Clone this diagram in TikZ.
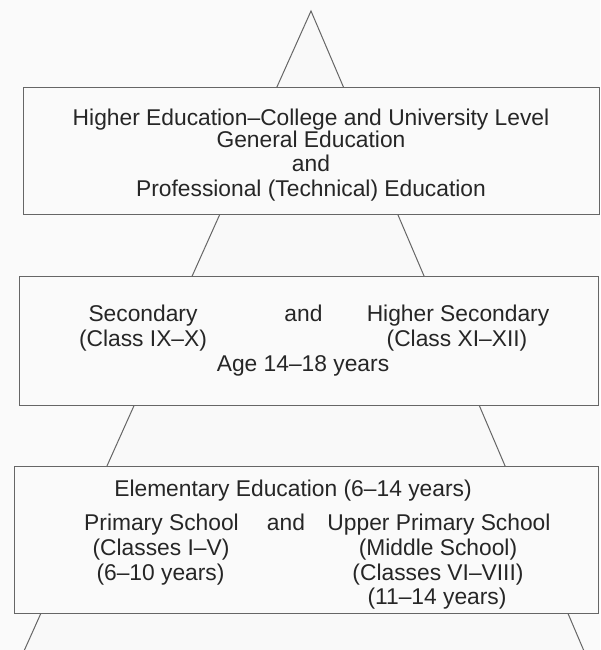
\documentclass[tikz,border=0pt]{standalone}
\usepackage{fontspec}
\setmainfont{Liberation Sans}
\definecolor{ink}{HTML}{262626}
\definecolor{edge}{HTML}{666666}
\definecolor{paper}{HTML}{FAFAFA}
\begin{document}
\begin{tikzpicture}[x=1pt,y=-1pt,
  lvl/.style={draw=edge,line width=1pt,fill=paper},
  txt/.style={text=ink,anchor=mid,inner sep=0pt,font=\fontsize{22.8}{25}\selectfont},
  pyr/.style={draw=edge,line width=1pt,fill=gray!5}]
\fill[paper] (0,0) rectangle (600,650);
\useasboundingbox (0,0) rectangle (600,650);
% pyramid
\coordinate (apex) at (311,11);
\coordinate (bl) at (24,651);
\coordinate (br) at (584,651);
\draw[pyr] (bl) -- (apex) -- (br);
% level boxes
\node[lvl,minimum width=576pt,minimum height=126pt,inner sep=0pt] (b1) at (311,151) {};
\node[lvl,minimum width=579pt,minimum height=129pt,inner sep=0pt] (b2) at (308.5,340.5) {};
\node[lvl,minimum width=584pt,minimum height=147pt,inner sep=0pt] (b3) at (306,539.5) {};
% box 1 text
\node[txt] (t11) at (311,123) {Higher Education–College and University Level};
\node[txt] (t12) at (311,145) {General Education};
\node[txt] (t13) at (311,169) {and};
\node[txt] (t14) at (311,194) {Professional (Technical) Education};
% box 2 text
\node[txt] (t21) at (143,319) {Secondary};
\node[txt] (t22) at (303.5,319) {and};
\node[txt] (t23) at (458,319) {Higher Secondary};
\node[txt] (t24) at (143,344) {(Class IX–X)};
\node[txt] (t25) at (457,344) {(Class XI–XII)};
\node[txt] (t26) at (303,369) {Age 14–18 years};
% box 3 text
\node[txt] (t31) at (293,494) {Elementary Education (6–14 years)};
\node[txt] (t32) at (161.5,528) {Primary School};
\node[txt] (t33) at (286,528) {and};
\node[txt] (t34) at (439,528) {Upper Primary School};
\node[txt] (t35) at (161,553) {(Classes I–V)};
\node[txt] (t36) at (438,553) {(Middle School)};
\node[txt] (t37) at (160.5,578) {(6–10 years)};
\node[txt] (t38) at (438,578) {(Classes VI–VIII)};
\node[txt] (t39) at (437,602) {(11–14 years)};
\end{tikzpicture}
\end{document}
